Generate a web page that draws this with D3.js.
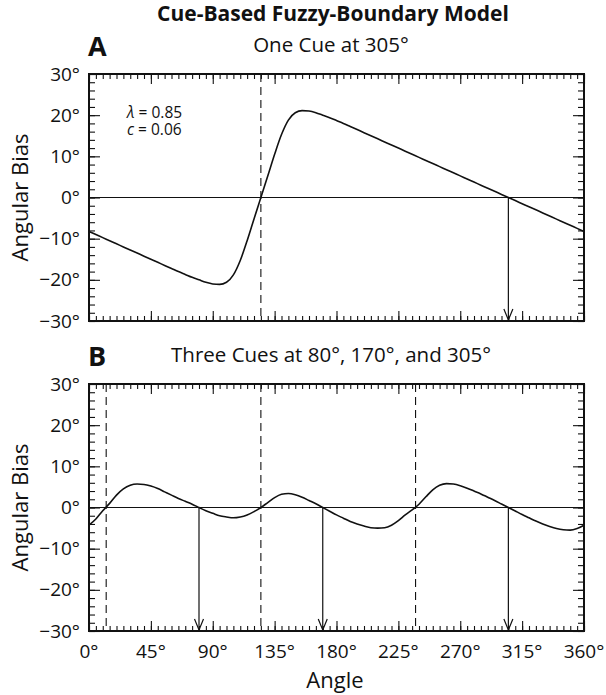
<!DOCTYPE html>
<meta charset="utf-8">
<style>
  body { margin: 0; background: #fff; }
  text { font-family: "Open Sans", "Noto Sans", sans-serif; fill: #111; }
</style>
<body>
<script src="https://cdn.jsdelivr.net/npm/d3@7"></script>
<script>

// angle grid (deg) shared by both curves
var angles = d3.range(0, 361, 5);

// panel A: one cue at 305, bias every 5 deg
var biasA = [-8.25, -9.0, -9.75, -10.5, -11.25, -12.0, -12.75, -13.5, -14.25, -15.0,
  -15.75, -16.5, -17.25, -18.0, -18.7, -19.4, -20.0, -20.6, -21.0, -21.1,
  -20.6, -18.8, -15.3, -10.5, -5.2, 0, 5.2, 10.5, 15.3, 18.8,
  20.6, 21.1, 21.0, 20.6, 20.0, 19.4, 18.7, 18.0, 17.25, 16.5,
  15.75, 15.0, 14.25, 13.5, 12.75, 12.0, 11.25, 10.5, 9.75, 9.0,
  8.25, 7.5, 6.75, 6.0, 5.25, 4.5, 3.75, 3.0, 2.25, 1.5,
  0.75, 0, -0.75, -1.5, -2.25, -3.0, -3.75, -4.5, -5.25, -6.0,
  -6.75, -7.5, -8.25];

// panel B: three cues at 80, 170, 305
var biasB = [-4.3, -2.8, -0.8, 1.0, 3.0, 4.5, 5.4, 5.7, 5.6, 5.2,
  4.6, 3.8, 3.0, 2.2, 1.5, 0.8, 0, -0.8, -1.4, -2.0,
  -2.3, -2.5, -2.3, -1.8, -1.0, 0, 1.2, 2.4, 3.2, 3.4,
  3.1, 2.5, 1.7, 0.9, 0, -0.9, -1.8, -2.6, -3.4, -4.0,
  -4.5, -4.9, -5.0, -4.9, -4.3, -3.2, -1.8, -0.6, 0.8, 2.6,
  4.3, 5.4, 5.8, 5.7, 5.3, 4.7, 4.0, 3.3, 2.5, 1.7,
  0.85, 0, -0.85, -1.7, -2.5, -3.3, -4.0, -4.6, -5.1, -5.4,
  -5.5, -5.1, -4.3];

var cuesA = [305], boundsA = [125];
var cuesB = [80, 170, 305], boundsB = [12.5, 125, 237.5];

var angleTicks = d3.range(0, 361, 45);
var angleMinor = d3.range(0, 361, 5);
var biasTicks = d3.range(-30, 31, 10);
var biasMinor = d3.range(-30, 31, 2);

var width = 606, height = 695;
var left = 89, right = 584, ph = 247;

var svg = d3.select("body").append("svg")
    .attr("width", width)
    .attr("height", height);

var x = d3.scaleLinear().domain([0, 360]).range([left, right]);

function deg(d) { return (d < 0 ? "\u2212" + (-d) : d) + "\u00b0"; }

function panel(top, bias, cues, bounds, letter, subtitle, xlabels) {
  var y = d3.scaleLinear().domain([-30, 30]).range([top + ph, top]);
  var g = svg.append("g");

  // ticks on all four sides, pointing in
  function ax(axis, scale, vals, size, tx) {
    var a = g.append("g").attr("transform", tx)
      .call(axis(scale).tickValues(vals).tickSize(-size).tickFormat(""));
    a.select(".domain").remove();
    a.selectAll("line").attr("stroke", "#111").attr("stroke-width", 1.1);
    return a;
  }
  ax(d3.axisBottom, x, angleMinor, 5, "translate(0," + (top + ph) + ")");
  ax(d3.axisBottom, x, angleTicks, 10, "translate(0," + (top + ph) + ")");
  ax(d3.axisTop, x, angleMinor, 5, "translate(0," + top + ")");
  ax(d3.axisTop, x, angleTicks, 10, "translate(0," + top + ")");
  ax(d3.axisLeft, y, biasMinor, 6, "translate(" + left + ",0)");
  ax(d3.axisLeft, y, biasTicks, 11, "translate(" + left + ",0)");
  ax(d3.axisRight, y, biasMinor, 6, "translate(" + right + ",0)");
  ax(d3.axisRight, y, biasTicks, 11, "translate(" + right + ",0)");

  // y labels
  g.selectAll(".ylab").data(biasTicks).enter().append("text")
      .attr("x", left - 9)
      .attr("y", function(d) { return y(d); })
      .attr("dy", "0.35em")
      .attr("text-anchor", "end")
      .style("font-size", "19px")
      .text(deg);

  if (xlabels) {
    g.selectAll(".xlab").data(angleTicks).enter().append("text")
        .attr("x", function(d) { return x(d); })
        .attr("y", top + ph + 27)
        .attr("text-anchor", "middle")
        .style("font-size", "19px")
        .text(deg);
  }

  // zero line
  g.append("line")
      .attr("x1", left).attr("x2", right)
      .attr("y1", y(0)).attr("y2", y(0))
      .attr("stroke", "#111").attr("stroke-width", 1.1);

  // fuzzy boundaries
  g.selectAll(".bound").data(bounds).enter().append("line")
      .attr("x1", function(d) { return x(d); })
      .attr("x2", function(d) { return x(d); })
      .attr("y1", top).attr("y2", top + ph)
      .attr("stroke", "#111").attr("stroke-width", 1.1)
      .attr("stroke-dasharray", "8,5");

  // arrows down to the cues
  cues.forEach(function(c) {
    g.append("line")
        .attr("x1", x(c)).attr("x2", x(c))
        .attr("y1", y(0)).attr("y2", top + ph - 1)
        .attr("stroke", "#111").attr("stroke-width", 1.2);
    g.append("path")
        .attr("d", "M" + (x(c) - 4.5) + "," + (top + ph - 12) +
                   "L" + x(c) + "," + (top + ph - 1) +
                   "L" + (x(c) + 4.5) + "," + (top + ph - 12))
        .attr("fill", "none").attr("stroke", "#111").attr("stroke-width", 1.2);
  });

  // the bias curve
  var line = d3.line()
      .x(function(d) { return x(d[0]); })
      .y(function(d) { return y(d[1]); })
      .curve(d3.curveMonotoneX);
  g.append("path")
      .datum(d3.zip(angles, bias))
      .attr("d", line)
      .attr("fill", "none")
      .attr("stroke", "#111")
      .attr("stroke-width", 1.6);

  // frame
  g.append("rect")
      .attr("x", left).attr("y", top)
      .attr("width", right - left).attr("height", ph)
      .attr("fill", "none").attr("stroke", "#111").attr("stroke-width", 2);

  // panel letter + subtitle
  g.append("text")
      .attr("x", left - 1).attr("y", top - 18)
      .style("font-size", "27px").style("font-weight", "bold")
      .text(letter);
  g.append("text")
      .attr("x", 331).attr("y", top - 22)
      .attr("text-anchor", "middle")
      .style("font-size", "20.5px")
      .text(subtitle);

  // y axis title
  svg.append("text")
      .attr("transform", "translate(28," + y(0) + ")rotate(-90)")
      .attr("text-anchor", "middle")
      .style("font-size", "22px")
      .text("Angular  Bias");

  return y;
}

svg.append("text")
    .attr("x", 333).attr("y", 21)
    .attr("text-anchor", "middle")
    .style("font-size", "21px").style("font-weight", "bold")
    .text("Cue-Based Fuzzy-Boundary Model");

var yA = panel(74, biasA, cuesA, boundsA, "A", "One Cue at 305\u00b0", false);
panel(384, biasB, cuesB, boundsB, "B", "Three Cues at 80\u00b0, 170\u00b0, and 305\u00b0", true);

// model parameters
svg.append("text").attr("x", 127).attr("y", yA(19.2))
    .style("font-size", "15.5px")
  .call(function(t) {
    t.append("tspan").style("font-style", "italic").text("\u03bb");
    t.append("tspan").text(" = 0.85");
  });
svg.append("text").attr("x", 127).attr("y", yA(19.2) + 17)
    .style("font-size", "15.5px")
  .call(function(t) {
    t.append("tspan").style("font-style", "italic").text("c");
    t.append("tspan").text(" = 0.06");
  });

svg.append("text")
    .attr("x", 335).attr("y", 688)
    .attr("text-anchor", "middle")
    .style("font-size", "22px")
    .text("Angle");

</script>
</body>
